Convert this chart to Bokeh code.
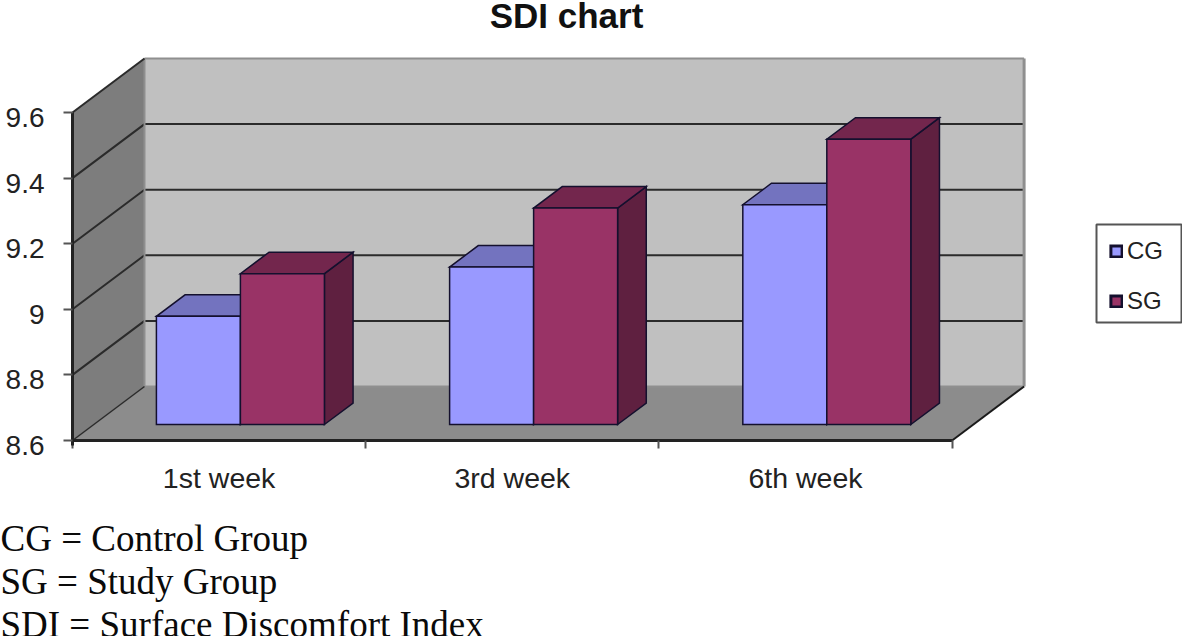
from bokeh.plotting import figure
from bokeh.models import (Range1d, LinearAxis, FixedTicker, Label, Legend, LegendItem)
from bokeh.embed import file_html
from bokeh.resources import INLINE

# ---- data
weeks = ["1st week", "3rd week", "6th week"]
cg_values = [8.93, 9.08, 9.27]
sg_values = [9.06, 9.26, 9.47]
y_ticks = [8.6, 8.8, 9.0, 9.2, 9.4, 9.6]
y_tick_labels = ["8.6", "8.8", "9", "9.2", "9.4", "9.6"]
grid_values = [8.8, 9.0, 9.2, 9.4]
title_text = "SDI chart"
notes = ["CG = Control Group", "SG = Study Group", "SDI = Surface Discomfort Index"]

# ---- layout
W, H = 1182, 636
LEFT, BASE = 72, 440          # pixel position of the front axes
PX_X, PX_Y = 293.2, 328.0     # pixels per category, per unit value
V0, V1 = 8.6, 9.6
DX, DY = 72 / PX_X, 54 / PX_Y # oblique depth vector in data units
BAR_D0, BAR_D1 = 0.296, 0.694 # bars' depth span
BAR_W = 84 / PX_X             # bar width in category units
N = len(weeks)

def X(x, d=0.0):
    return x + d * DX
def Y(v, d=0.0):
    return v + d * DY
def sx(px):
    return (px - LEFT) / PX_X
def sy(py):
    return V0 + (BASE - py) / PX_Y

p = figure(width=W, height=H, output_backend="svg", toolbar_location=None,
           x_axis_type=None, y_axis_type=None,
           x_range=Range1d(sx(0), sx(W)), y_range=Range1d(sy(H), sy(0)),
           min_border=0, margin=0)
p.outline_line_color = None
p.grid.visible = False

WALL_EDGE = "#8f8f8f"
# left wall
p.patch([X(0, 0), X(0, 1), X(0, 1), X(0, 0)], [Y(V0, 0), Y(V0, 1), Y(V1, 1), Y(V1, 0)],
        fill_color="#7d7d7d", line_color=None)
# back wall
p.patch([X(0, 1), X(N, 1), X(N, 1), X(0, 1)], [Y(V0, 1), Y(V0, 1), Y(V1, 1), Y(V1, 1)],
        fill_color="#c0c0c0", line_color=None)
# floor
p.patch([X(0, 0), X(N, 0), X(N, 1), X(0, 1)], [Y(V0, 0), Y(V0, 0), Y(V0, 1), Y(V0, 1)],
        fill_color="#8c8c8c", line_color=None)

# grid lines on the two walls
p.multi_line([[X(0, 0), X(0, 1), X(N, 1)] for _ in grid_values],
             [[Y(v, 0), Y(v, 1), Y(v, 1)] for v in grid_values],
             line_color="#2b2b2b", line_width=2)
# wall edges
p.line([X(0, 1), X(0, 1)], [Y(V0, 1), Y(V1, 1)], line_color=WALL_EDGE, line_width=2)
p.line([X(N, 1), X(N, 1)], [Y(V0, 1), Y(V1, 1)], line_color=WALL_EDGE, line_width=3)
p.line([X(0, 1), X(N, 1)], [Y(V1, 1), Y(V1, 1)], line_color=WALL_EDGE, line_width=2)
p.line([X(0, 1), X(N, 1)], [Y(V0, 1), Y(V0, 1)], line_color=WALL_EDGE, line_width=2)
p.line([X(0, 0), X(0, 1)], [Y(V1, 0), Y(V1, 1)], line_color="#2b2b2b", line_width=2)
p.line([X(0, 0), X(0, 1)], [Y(V0, 0), Y(V0, 1)], line_color="#2b2b2b", line_width=1.5)
p.line([X(N, 0), X(N, 1)], [Y(V0, 0), Y(V0, 1)], line_color="#1a1a1a", line_width=2)

def draw(values, offset, front, top, side):
    xs_f, ys_f, xs_t, ys_t, xs_s, ys_s = [], [], [], [], [], []
    for i, v in enumerate(values):
        x0 = i + 0.5 + offset * BAR_W
        x1 = x0 + BAR_W
        xs_f.append([X(x0, BAR_D0), X(x1, BAR_D0), X(x1, BAR_D0), X(x0, BAR_D0)])
        ys_f.append([Y(V0, BAR_D0), Y(V0, BAR_D0), Y(v, BAR_D0), Y(v, BAR_D0)])
        xs_t.append([X(x0, BAR_D0), X(x1, BAR_D0), X(x1, BAR_D1), X(x0, BAR_D1)])
        ys_t.append([Y(v, BAR_D0), Y(v, BAR_D0), Y(v, BAR_D1), Y(v, BAR_D1)])
        xs_s.append([X(x1, BAR_D0), X(x1, BAR_D1), X(x1, BAR_D1), X(x1, BAR_D0)])
        ys_s.append([Y(V0, BAR_D0), Y(V0, BAR_D1), Y(v, BAR_D1), Y(v, BAR_D0)])
    style = dict(line_color="#14102e", line_width=1.5, line_join="miter")
    p.patches(xs_s, ys_s, fill_color=side, **style)
    p.patches(xs_t, ys_t, fill_color=top, **style)
    p.patches(xs_f, ys_f, fill_color=front, **style)

# draw group by group so that nearer bars hide the sides of the previous one
CG_FRONT, SG_FRONT = "#9999ff", "#993366"
draw(cg_values, -1, CG_FRONT, "#7373bf", "#4d4d80")
draw(sg_values, 0, SG_FRONT, "#73264d", "#5f2040")

# axes, fixed inside the full-page frame.  The reference's value labels sit a
# little below their tick marks, so labels are major ticks and marks are minor ticks.
LABEL_DROP = 5.0 / PX_Y
label_ticks = [t - LABEL_DROP for t in y_ticks]
yaxis = LinearAxis(fixed_location=0, bounds=(V0 - LABEL_DROP, V1),
                   ticker=FixedTicker(ticks=label_ticks, minor_ticks=y_ticks),
                   major_label_overrides=dict(zip(label_ticks, y_tick_labels)),
                   major_tick_out=0, major_tick_in=0, minor_tick_out=9, minor_tick_in=0,
                   minor_tick_line_color="#555555", minor_tick_line_width=2,
                   axis_line_color="#222222", axis_line_width=3,
                   major_label_standoff=19,
                   major_label_text_font="Liberation Sans",
                   major_label_text_font_size="28px",
                   major_label_text_color="#222222")
p.add_layout(yaxis, "left")

xaxis = LinearAxis(fixed_location=V0, bounds=(0, N),
                   ticker=FixedTicker(ticks=[i + 0.5 for i in range(N)],
                                      minor_ticks=list(range(N + 1))),
                   major_label_overrides={i + 0.5: w for i, w in enumerate(weeks)},
                   major_tick_out=0, major_tick_in=0, minor_tick_out=8, minor_tick_in=0,
                   minor_tick_line_color="#555555", minor_tick_line_width=2,
                   axis_line_color="#222222", axis_line_width=3,
                   major_label_standoff=13,
                   major_label_text_font="Liberation Sans",
                   major_label_text_font_size="28.5px",
                   major_label_text_color="#222222")
p.add_layout(xaxis, "below")

# title and notes
p.add_layout(Label(x=sx(566), y=sy(15), text=title_text, text_font="Liberation Sans",
                   text_font_style="bold", text_font_size="35px", text_color="#111111",
                   text_align="center", text_baseline="middle"))
for t, py in zip(notes, [538, 581, 624]):
    p.add_layout(Label(x=sx(0), y=sy(py), text=t, text_font="Liberation Serif",
                       text_font_size="37px", text_color="#0a0a0a",
                       text_align="left", text_baseline="middle"))

# legend box, drawn behind a transparent legend
p.patch([sx(1096), sx(1181), sx(1181), sx(1096)], [sy(322), sy(322), sy(224), sy(224)],
        fill_color="#ffffff", line_color="#555555", line_width=2)
# key-only renderers (no visible geometry): the keys have a heavier outline than the bars
key_style = dict(line_color="#14102e", line_width=3, line_join="miter")
nan = float("nan")
r_cg = p.patches(xs=[[nan, nan]], ys=[[nan, nan]], fill_color=CG_FRONT, **key_style)
r_sg = p.patches(xs=[[nan, nan]], ys=[[nan, nan]], fill_color=SG_FRONT, **key_style)
legend = Legend(items=[LegendItem(label="CG", renderers=[r_cg]),
                       LegendItem(label="SG", renderers=[r_sg])],
                location=(1109, H - 315), orientation="vertical",
                padding=14, margin=0, spacing=22, glyph_width=14, glyph_height=14,
                label_height=21, label_standoff=4,
                label_text_font="Liberation Sans", label_text_font_size="24px",
                label_text_color="#222222", border_line_color=None,
                background_fill_alpha=0)
p.add_layout(legend, "center")

open("out.html", "w").write(file_html(p, INLINE))
